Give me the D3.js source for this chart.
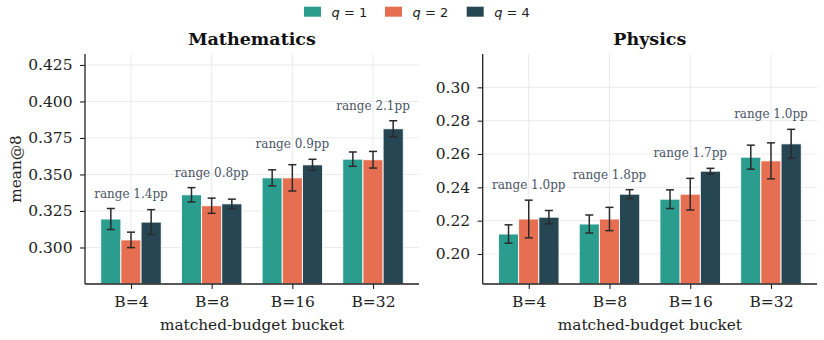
<!DOCTYPE html>
<html>
<head>
<meta charset="utf-8">
<script src="https://cdn.jsdelivr.net/npm/d3@7"></script>
<style>
  body { margin: 0; background: #fff; }
  svg { display: block; }
  .tick text { font-family: 'DejaVu Serif', serif; font-size: 15.5px; fill: #222; }
  .grid line { stroke: #ebebeb; stroke-width: 1; }
</style>
</head>
<body>
<div id="chart"></div>
<script>
// Data
const buckets = ['B=4', 'B=8', 'B=16', 'B=32'];
const seriesNames = ['1', '2', '4'];
const seriesColors = ['#2a9d8f', '#e76f51', '#264653'];

const mathMean = [
  [0.3195, 0.3361, 0.3477, 0.3605],
  [0.3052, 0.3286, 0.3477, 0.3601],
  [0.3174, 0.3299, 0.3566, 0.3813]
];
const mathErr = [
  [0.0072, 0.0049, 0.0055, 0.0049],
  [0.0053, 0.0052, 0.0090, 0.0057],
  [0.0085, 0.0032, 0.0038, 0.0055]
];
const mathRange = ['range 1.4pp', 'range 0.8pp', 'range 0.9pp', 'range 2.1pp'];
const mathTicks = [0.300, 0.325, 0.350, 0.375, 0.400, 0.425];

const physMean = [
  [0.2120, 0.2180, 0.2329, 0.2581],
  [0.2210, 0.2210, 0.2359, 0.2559],
  [0.2221, 0.2359, 0.2497, 0.2661]
];
const physErr = [
  [0.0055, 0.0054, 0.0056, 0.0072],
  [0.0113, 0.0070, 0.0095, 0.0108],
  [0.0040, 0.0027, 0.0017, 0.0087]
];
const physRange = ['range 1.0pp', 'range 1.8pp', 'range 1.7pp', 'range 1.0pp'];
const physTicks = [0.20, 0.22, 0.24, 0.26, 0.28, 0.30];

// Canvas
const W = 824, H = 340;
const svg = d3.select('#chart').append('svg')
  .attr('width', W).attr('height', H);

const plotTop = 54, plotBottom = 284;

function drawPanel(opts) {
  const { x0, x1, title, means, errs, ranges, ticks, domain, fmt, ylabel } = opts;

  // category positions like matplotlib: xlim -0.57 .. 3.57
  const x = d3.scaleLinear().domain([-0.57, 3.57]).range([x0, x1]);
  const y = d3.scaleLinear().domain(domain).range([plotBottom, plotTop]);
  const unit = x(1) - x(0);
  const barW = 0.25 * unit;

  const g = svg.append('g');

  // grid
  const grid = g.append('g').attr('class', 'grid');
  grid.selectAll('.hg').data(ticks).enter().append('line')
    .attr('x1', x0).attr('x2', x1)
    .attr('y1', d => y(d)).attr('y2', d => y(d));
  grid.selectAll('.vg').data(buckets).enter().append('line')
    .attr('x1', (d, i) => x(i)).attr('x2', (d, i) => x(i))
    .attr('y1', plotTop).attr('y2', plotBottom);

  // bars
  seriesNames.forEach((s, si) => {
    const off = (si - 1) * 0.25;
    g.append('g').selectAll('rect')
      .data(means[si]).enter().append('rect')
      .attr('x', (d, i) => x(i + off) - barW / 2)
      .attr('width', barW)
      .attr('y', d => y(d))
      .attr('height', d => plotBottom - y(d))
      .attr('fill', seriesColors[si])
      .attr('stroke', '#fff')
      .attr('stroke-width', 0.9);
  });

  // error bars
  seriesNames.forEach((s, si) => {
    const off = (si - 1) * 0.25;
    const eb = g.append('g').attr('stroke', '#2a2a2a').attr('stroke-width', 1.5);
    means[si].forEach((m, i) => {
      const cx = x(i + off);
      const e = errs[si][i];
      eb.append('line').attr('x1', cx).attr('x2', cx).attr('y1', y(m - e)).attr('y2', y(m + e));
      eb.append('line').attr('x1', cx - 4).attr('x2', cx + 4).attr('y1', y(m - e)).attr('y2', y(m - e));
      eb.append('line').attr('x1', cx - 4).attr('x2', cx + 4).attr('y1', y(m + e)).attr('y2', y(m + e));
    });
  });

  // range labels above highest whisker
  g.append('g').selectAll('text')
    .data(ranges).enter().append('text')
    .attr('x', (d, i) => x(i))
    .attr('y', (d, i) => {
      const hi = d3.max(seriesNames, (s, si) => means[si][i] + errs[si][i]);
      return y(hi) - 11;
    })
    .attr('text-anchor', 'middle')
    .style('font-family', "'DejaVu Serif', serif")
    .style('font-size', '12px')
    .style('fill', '#4a5568')
    .text(d => d);

  // axes
  const yAxis = d3.axisLeft(y).tickValues(ticks).tickFormat(d3.format(fmt))
    .tickSizeInner(5).tickSizeOuter(0).tickPadding(7.5);
  const ya = g.append('g').attr('transform', `translate(${x0},0)`).call(yAxis);
  ya.select('.domain').remove();
  ya.selectAll('.tick line').attr('stroke', '#222').attr('stroke-width', 1.1);

  const xAxis = d3.axisBottom(x).tickValues([0, 1, 2, 3]).tickFormat(i => buckets[i])
    .tickSizeInner(5).tickSizeOuter(0).tickPadding(7);
  const xa = g.append('g').attr('transform', `translate(0,${plotBottom})`).call(xAxis);
  xa.select('.domain').remove();
  xa.selectAll('.tick line').attr('stroke', '#222').attr('stroke-width', 1.1);

  // spines
  g.append('line').attr('x1', x0).attr('x2', x0).attr('y1', plotTop).attr('y2', plotBottom)
    .attr('stroke', '#222').attr('stroke-width', 1.3);
  g.append('line').attr('x1', x0).attr('x2', x1).attr('y1', plotBottom).attr('y2', plotBottom)
    .attr('stroke', '#222').attr('stroke-width', 1.3);

  // title
  g.append('text')
    .attr('x', (x0 + x1) / 2).attr('y', 45)
    .attr('text-anchor', 'middle')
    .style('font-family', "'DejaVu Serif', serif")
    .style('font-weight', 'bold')
    .style('font-size', '17.5px')
    .style('fill', '#111')
    .text(title);

  // x label
  g.append('text')
    .attr('x', (x0 + x1) / 2).attr('y', 329.5)
    .attr('text-anchor', 'middle')
    .style('font-family', "'DejaVu Serif', serif")
    .style('font-size', '15.3px')
    .style('fill', '#222')
    .text('matched-budget bucket');

  if (ylabel) {
    g.append('text')
      .attr('transform', `translate(20.5,${(plotTop + plotBottom) / 2}) rotate(-90)`)
      .attr('text-anchor', 'middle')
      .style('font-family', "'DejaVu Serif', serif")
      .style('font-size', '15.3px')
      .style('fill', '#222')
      .text(ylabel);
  }
}

drawPanel({
  x0: 85, x1: 419, title: 'Mathematics',
  means: mathMean, errs: mathErr, ranges: mathRange,
  ticks: mathTicks, domain: [0.275, 0.4325], fmt: '.3f', ylabel: 'mean@8'
});

drawPanel({
  x0: 482.7, x1: 817, title: 'Physics',
  means: physMean, errs: physErr, ranges: physRange,
  ticks: physTicks, domain: [0.182, 0.320], fmt: '.2f', ylabel: null
});

// Legend
const legendX = [304, 385, 466.7];
const legend = svg.append('g');
seriesNames.forEach((s, i) => {
  legend.append('rect')
    .attr('x', legendX[i]).attr('y', 6.7)
    .attr('width', 17).attr('height', 10)
    .attr('fill', seriesColors[i]);
  const t = legend.append('text')
    .attr('x', legendX[i] + 27.5).attr('y', 16.5)
    .style('font-family', "'DejaVu Sans', sans-serif")
    .style('font-size', '13px')
    .style('fill', '#222');
  t.append('tspan').style('font-style', 'italic').text('q');
  t.append('tspan').text(' = ' + s);
});
</script>
</body>
</html>
